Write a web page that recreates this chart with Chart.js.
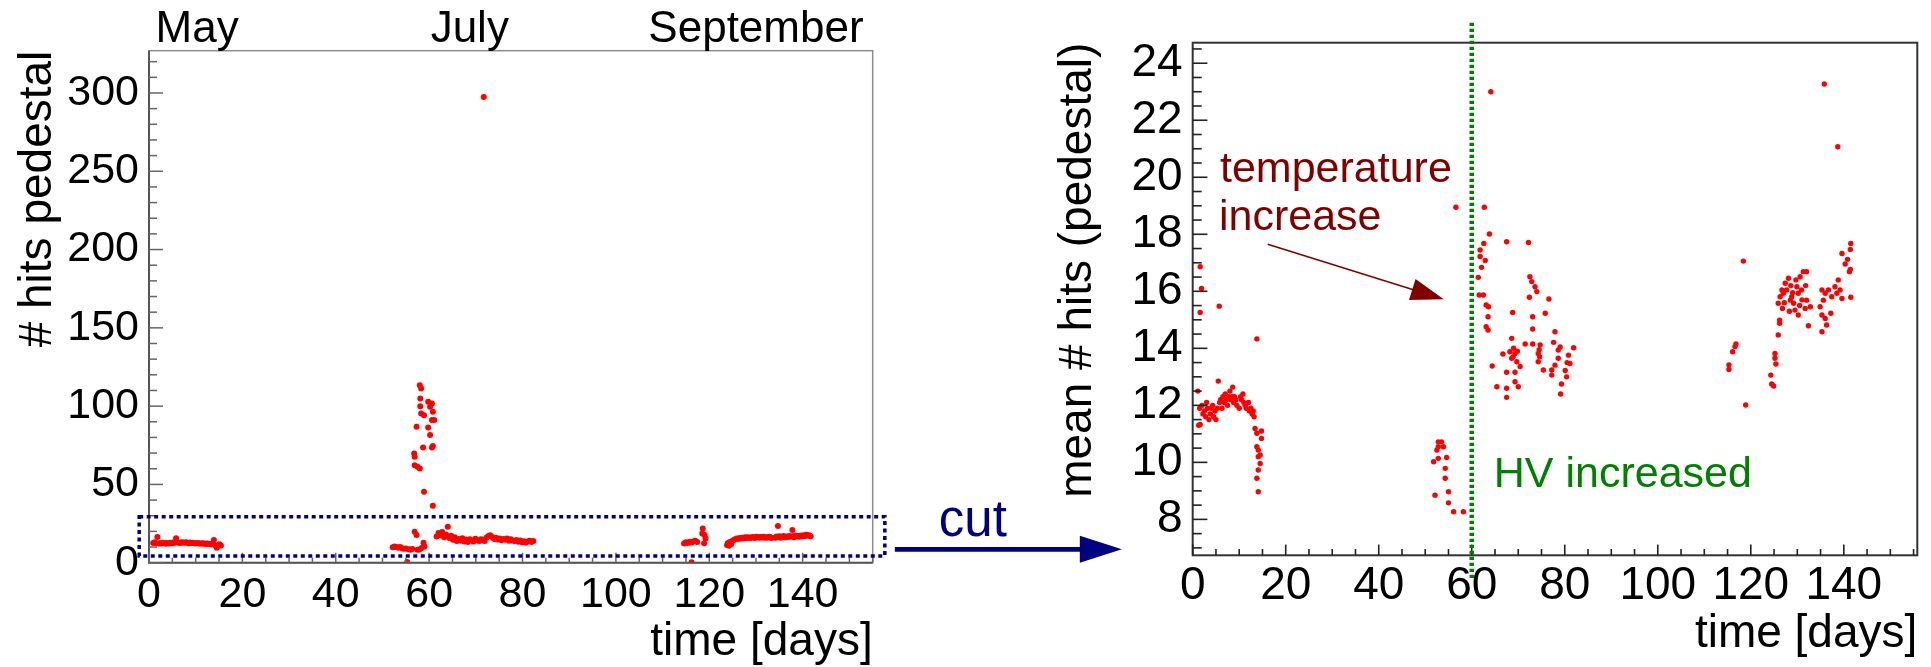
<!DOCTYPE html>
<html><head><meta charset="utf-8">
<script src="https://cdn.jsdelivr.net/npm/chart.js@4.4.1/dist/chart.umd.min.js"></script>
<style>
html,body{margin:0;padding:0;background:#fff;}
#wrap{position:relative;width:1931px;height:667px;overflow:hidden;background:#fff;}
canvas{position:absolute;left:0;top:0;}
</style></head><body>
<div id="wrap"><canvas id="left" width="1931" height="667"></canvas><canvas id="right" width="1931" height="667"></canvas></div>
<script>
// ---------------- data: left panel (# hits pedestal vs time) ----------------
const leftDays = [
  0.9,1.2,1.5,1.8,2.1,2.4,2.7,3.0,3.3,3.6, 3.9,4.2,4.5,4.8,5.1,5.4,5.8,6.1,6.4,6.7,
  7.0,7.3,7.6,7.9,8.2,8.5,8.8,9.1,9.4,9.7, 10.0,10.3,10.6,10.9,11.2,11.5,11.8,12.1,12.4,12.7,
  13.0,13.3,13.6,13.9,14.2,14.5,14.8,15.1,15.4,
  52.2,52.6,53.0,53.4,53.8,54.2,54.6,55.0,55.3,55.6, 56.0,56.4,56.9,57.3,57.5,57.9,58.4,58.8,59.0,
  57.3,56.8,56.9,56.9,57.5,58.0,58.0,58.3,58.1,58.1, 58.3,58.9,58.7,58.9,59.8,60.2,60.6,60.8,61.1,60.6,
  59.8,60.2,60.8,60.6,60.8,71.7,
  61.6,62.0,62.4,62.8,63.2,63.6,64.0,64.3,64.7,65.1, 65.5,65.9,66.3,66.7,67.1,67.5,67.9,68.3,68.7,69.1,
  69.5,69.9,70.3,70.7,71.1,71.5,71.9,72.3,72.7,73.1, 73.5,73.9,74.3,74.7,75.1,75.5,75.9,76.3,76.7,77.1,
  77.5,77.9,78.3,78.7,79.1,79.5,79.9,80.3,80.7,81.1, 81.5,81.9,82.3,
  114.6,115.0,115.4,115.8,116.2,116.2,116.6,117.0,117.4,118.5, 118.6,119.0,119.2,118.9,
  123.8,124.0,124.2,124.4,124.7,125.0,125.3,125.6,125.9,126.2, 126.5,126.8,127.1,127.4,127.7,128.0,128.3,128.6,128.9,129.2,
  129.5,129.8,130.1,130.4,130.7,131.0,131.3,131.6,131.9,132.2, 132.5,132.8,133.1,133.3,
  134.1,134.4,134.7,134.7,135.0,135.3,135.6,135.9,136.2,136.5, 136.8,137.1,137.4,137.8,137.8,138.1,138.4,138.7,139.0,139.3,
  139.6,139.9,140.2,140.5,140.8,141.1,141.4,141.7
];
const leftHits = [
  12.6,13.0,12.4,16.4,12.2,12.5,12.3,12.7,12.4,12.1, 12.6,12.3,12.8,12.5,12.9,12.6,15.6,13.0,12.8,12.6,
  13.1,12.9,12.7,13.0,12.8,12.5,12.9,12.6,12.7,12.4, 12.3,12.6,12.2,12.4,12.1,12.5,12.2,12.0,12.3,12.1,
  11.9,11.7,12.0,14.5,11.2,9.5,10.8,11.8,11.0,
  9.8,10.4,10.1,9.6,10.0,9.3,8.9,9.1,0.4,8.6, 8.3,8.8,19.8,17.7,8.2,8.5,9.4,12.8,10.3,
  86.8,69.8,67.6,62.3,61.3,60.2,113.4,111.3,104.9,100.0, 95.3,94.2,73.6,45.3,102.8,99.6,101.7,96.4,91.1,91.1,
  86.4,81.5,74.5,73.6,36.4,297.4,
  16.8,18.9,17.5,19.6,16.2,18.0,23.0,15.8,17.2,14.6, 16.3,13.9,15.1,14.2,15.6,13.5,14.8,13.2,15.0,14.1,
  13.6,15.3,14.4,13.8,15.0,14.6,13.9,16.1,17.0,17.6, 16.4,15.2,16.0,14.8,15.5,14.3,15.1,14.6,15.4,14.0,
  14.9,14.2,13.8,14.5,13.4,14.1,13.0,13.7,12.9,13.5, 14.0,13.2,13.8,
  12.2,13.0,12.6,13.4,0.3,12.9,13.6,14.0,13.3,18.7, 21.9,17.7,15.5,12.4,
  11.3,12.6,10.8,13.2,12.0,14.0,14.6,15.0,15.5,15.1, 15.8,15.4,16.0,15.6,16.2,15.8,16.3,16.0,15.7,16.4,
  16.1,15.8,16.5,16.2,15.9,16.4,16.1,16.6,16.0,16.3, 15.9,16.5,16.2,15.8,
  16.0,16.8,23.4,16.2,16.9,15.9,16.6,17.1,16.3,16.8, 16.4,17.0,16.5,20.9,16.9,16.2,17.3,16.7,17.1,16.6,
  17.4,16.9,17.6,17.0,17.8,17.2,17.5,16.9
];
const leftYTicks = [0,50,100,150,200,250,300];
const monthNames = ['May','July','September'];
const monthDays = [10.3, 68.7, 130.0];
// the dotted "cut" window, in data units of the left panel
const cutDays = [-2.1, 157.6];
const cutHits = [4.3, 29.4];

// ---------------- data: right panel (mean # hits (pedestal) vs time) ----------------
const rightDays = [
  1.1,1.3,1.6,1.9,1.6,1.6,1.5,2.0,2.2,2.5, 2.8,3.0,3.2,3.5,3.8,4.0,4.3,4.5,4.8,5.0,
  5.3,5.5,5.7,5.8,6.0,6.3,6.5,6.8,7.0,7.2, 7.5,7.8,8.0,8.2,8.5,8.6,8.8,9.0,9.3,9.5,
  10.0,10.3,10.5,10.8,11.0,11.3,11.5,12.0,12.2,12.5, 12.8,13.0,13.2,13.8,13.4,13.8,14.8,14.8,13.8,14.1,
  14.5,14.1,14.5,14.1,13.8,14.1,
  52.8,53.5,52.8,53.9,52.5,54.6,52.8,51.8,54.3,54.3, 52.1,55.0,55.0,56.1,58.2,
  56.6,62.7,63.8,62.6,61.8,61.8,62.9,62.1,61.4,61.6, 62.5,63.1,63.6,63.5,63.1,63.5,67.5,72.2,72.5,72.9,
  73.6,74.0,72.4,76.6,68.8,73.1,75.8,73.1,77.9,68.6, 71.5,73.1,74.7,77.6,81.9,66.7,68.2,69.3,68.6,69.7,
  74.3,74.3,78.6,78.6,80.8,81.1,77.9,64.4,70.4,77.2, 75.4,67.5,69.3,80.1,77.2,80.4,69.3,70.0,65.4,67.5,
  79.3,67.5,79.1,64.1,68.9,69.0,69.8,74.5,74.6,79.0, 80.5,
  118.9,115.3,115.3,116.1,116.6,116.8,124.3,124.5,124.9,125.2, 125.2,125.4,125.9,126.2,126.2,125.9,126.3,126.7,127.4,128.1,
  127.7,128.8,129.2,129.5,130.2,129.9,130.6,131.3,132.0,130.9, 132.0,132.8,132.4,128.5,127.0,130.2,131.7,129.7,135.3,136.0,
  136.7,135.6,134.9,135.3,136.0,136.3,135.3,137.2,137.4,138.1, 138.8,139.2,139.6,138.5,141.5,140.3,140.8,139.6,141.4,141.5,
  141.4,141.2,135.8,138.7,118.4,127.2,128.3,129.0,131.0,131.8, 126.8,128.6,130.5
];
const rightMeanHits = [
  12.5,11.3,16.86,16.1,15.26,11.33,11.9,12.0,11.7,11.8, 11.6,12.1,11.9,11.5,11.7,11.9,12.0,11.6,11.8,11.5,
  11.9,12.85,15.48,12.1,12.2,11.9,12.3,12.1,12.4,12.2, 12.0,12.3,12.5,12.2,12.3,12.64,12.1,12.3,12.2,12.0,
  11.9,12.3,12.2,12.4,12.1,12.0,11.9,12.1,11.8,11.9, 11.7,11.8,11.6,14.33,11.19,11.02,11.1,10.84,10.55,10.43,
  10.26,10.2,9.96,9.73,9.44,8.97,
  10.72,10.72,10.55,10.55,10.43,10.17,10.14,10.02,9.79,9.44, 8.85,8.97,8.58,8.27,8.27,
  18.95,18.95,18.01,17.68,17.45,17.22,17.08,16.84,16.49,15.87, 15.87,15.52,15.46,15.11,14.76,14.64,17.74,17.71,16.51,16.34,
  16.16,15.99,15.79,15.73,15.26,15.11,15.23,14.68,14.58,14.35, 14.15,14.15,14.12,14.21,14.02,13.8,13.88,13.82,13.65,13.53,
  13.82,13.53,13.94,13.65,13.76,13.47,13.41,13.38,13.36,13.24, 13.24,13.16,13.16,13.22,13.06,13.0,12.83,12.65,12.65,12.6,
  12.75,12.28,12.4,23.0,13.7,14.0,13.9,13.95,13.7,14.05, 13.5,
  12.01,13.42,13.26,13.88,14.06,14.15,13.06,12.75,12.68,13.82, 13.65,13.45,14.47,14.88,14.99,15.58,15.81,16.05,16.28,16.46,
  16.05,15.81,15.58,15.34,15.17,16.16,16.51,16.69,16.69,16.05, 15.69,15.46,14.79,15.69,15.93,15.93,15.4,16.4,16.05,15.93,
  16.05,15.69,15.46,15.17,15.05,14.82,14.58,15.23,15.81,16.16, 16.4,16.05,15.75,15.93,15.79,16.96,17.12,17.33,17.47,17.68,
  16.77,16.69,23.27,21.07,17.06,15.6,15.3,15.95,15.7,16.2, 15.4,16.2,15.5
];
const rightYTicks = [8,10,12,14,16,18,20,22,24];
const hvDay = 60;

// ---------------- styling helpers ----------------
const FONT = "'Liberation Sans', Arial, Helvetica, sans-serif";

function drawTicks(ctx, scale, area, opt) {
  const n0 = Math.ceil(scale.min / opt.step - 1e-9);
  const n1 = Math.floor(scale.max / opt.step + 1e-9);
  ctx.lineWidth = opt.width; ctx.strokeStyle = opt.color;
  for (let i = n0; i <= n1; i++) {
    const v = i * opt.step;
    const r = v / opt.major;
    const isMajor = Math.abs(r - Math.round(r)) < 1e-6;
    const len = isMajor ? opt.majorLen : opt.minorLen;
    const p = scale.getPixelForValue(v);
    ctx.beginPath();
    if (scale.isHorizontal()) { ctx.moveTo(p, area.bottom); ctx.lineTo(p, area.bottom - len); }
    else { ctx.moveTo(area.left, p); ctx.lineTo(area.left + len, p); }
    ctx.stroke();
  }
}

function arrowHead(ctx, x0, y0, x1, y1, L, W) {
  const dx = x1 - x0, dy = y1 - y0, d = Math.hypot(dx, dy);
  const ux = dx / d, uy = dy / d, nx = -uy, ny = ux;
  const bx = x1 - ux * L, by = y1 - uy * L;
  ctx.beginPath();
  ctx.moveTo(x1, y1);
  ctx.lineTo(bx + nx * W / 2, by + ny * W / 2);
  ctx.lineTo(bx - nx * W / 2, by - ny * W / 2);
  ctx.closePath(); ctx.fill();
}

const leftDecor = {
  id: 'leftDecor',
  afterDatasetsDraw(chart) {
    const {ctx, chartArea: a, scales: {x, y}} = chart;
    ctx.save();
    // frame
    ctx.lineWidth = 1.5; ctx.strokeStyle = '#8c8c8c';
    ctx.strokeRect(a.left, a.top, a.right - a.left, a.bottom - a.top);
    ctx.lineWidth = 2; ctx.strokeStyle = '#555';
    ctx.beginPath(); ctx.moveTo(a.left, a.top); ctx.lineTo(a.left, a.bottom); ctx.lineTo(a.right, a.bottom); ctx.stroke();
    drawTicks(ctx, y, a, {step: 10, major: 50, majorLen: 14, minorLen: 8, width: 1.5, color: '#666'});
    drawTicks(ctx, x, a, {step: 5, major: 20, majorLen: 10, minorLen: 5, width: 1.5, color: '#666'});
    // month labels
    ctx.fillStyle = '#000'; ctx.font = `44px ${FONT}`; ctx.textAlign = 'center'; ctx.textBaseline = 'alphabetic';
    monthNames.forEach((m, i) => ctx.fillText(m, x.getPixelForValue(monthDays[i]), a.top - 9));
    // dotted cut window
    const bx0 = x.getPixelForValue(cutDays[0]), bx1 = x.getPixelForValue(cutDays[1]);
    const by0 = y.getPixelForValue(cutHits[1]), by1 = y.getPixelForValue(cutHits[0]);
    ctx.setLineDash([4, 3.5]); ctx.lineWidth = 3.5; ctx.strokeStyle = '#000080';
    ctx.strokeRect(bx0, by0, bx1 - bx0, by1 - by0);
    ctx.setLineDash([]);
    // "cut" arrow
    const ay = y.getPixelForValue(8.55);
    ctx.lineWidth = 4.7; ctx.strokeStyle = '#000080'; ctx.fillStyle = '#000080';
    ctx.beginPath(); ctx.moveTo(bx1 + 10, ay); ctx.lineTo(bx1 + 200, ay); ctx.stroke();
    arrowHead(ctx, bx1 + 10, ay, bx1 + 237, ay, 42, 27);
    ctx.font = `51px ${FONT}`; ctx.textAlign = 'left';
    ctx.fillText('cut', bx1 + 54, ay - 13.6);
    ctx.restore();
  }
};

const rightDecor = {
  id: 'rightDecor',
  afterDatasetsDraw(chart) {
    const {ctx, chartArea: a, scales: {x, y}} = chart;
    ctx.save();
    ctx.lineWidth = 2; ctx.strokeStyle = '#333';
    ctx.strokeRect(a.left, a.top, a.right - a.left, a.bottom - a.top);
    drawTicks(ctx, y, a, {step: 0.5, major: 2, majorLen: 14.7, minorLen: 9, width: 1.6, color: '#222'});
    drawTicks(ctx, x, a, {step: 5, major: 20, majorLen: 10.7, minorLen: 6.3, width: 1.6, color: '#222'});
    // HV line
    const gx = x.getPixelForValue(hvDay);
    ctx.setLineDash([3.3, 2.7]); ctx.lineWidth = 4.5; ctx.strokeStyle = '#008000';
    ctx.beginPath(); ctx.moveTo(gx, a.top - 20); ctx.lineTo(gx, a.bottom + 23); ctx.stroke();
    ctx.setLineDash([]);
    ctx.fillStyle = '#008000'; ctx.font = `43px ${FONT}`; ctx.textAlign = 'left'; ctx.textBaseline = 'alphabetic';
    ctx.fillText('HV increased', gx + 22, 486.7);
    // temperature annotation
    ctx.fillStyle = '#800000';
    ctx.fillText('temperature', 1220, 181.7);
    ctx.fillText('increase', 1219, 230);
    ctx.strokeStyle = '#800000'; ctx.lineWidth = 1.5;
    const x0 = 1267.7, y0 = 244.3, x1 = gx - 28, y1 = 299.3;
    ctx.beginPath(); ctx.moveTo(x0, y0); ctx.lineTo(x1 - 20, y1 - 6.3); ctx.stroke();
    arrowHead(ctx, x0, y0, x1, y1, 33, 22);
    ctx.restore();
  }
};

function pts(xs, ys) { return xs.map((d, i) => ({x: d, y: ys[i]})); }

new Chart(document.getElementById('left'), {
  type: 'scatter',
  data: {datasets: [{data: pts(leftDays, leftHits), backgroundColor: '#ff0000', borderWidth: 0, pointRadius: 3, pointHoverRadius: 3}]},
  options: {
    responsive: false, animation: false, devicePixelRatio: 1,
    layout: {padding: {left: 0, top: 50.7, right: 1058.3, bottom: 0}},
    plugins: {legend: {display: false}, tooltip: {enabled: false}},
    scales: {
      x: {
        type: 'linear', position: 'bottom', min: 0, max: 155,
        grid: {display: false, drawTicks: false}, border: {display: false},
        ticks: {stepSize: 20, includeBounds: false, autoSkip: false, maxRotation: 0, padding: 6.5, color: '#000', font: {family: FONT, size: 43}},
        title: {display: true, text: 'time [days]', align: 'end', color: '#000', font: {family: FONT, size: 46, lineHeight: 1}, padding: {top: 0, bottom: 1.6}},
        afterFit(s) { s.height = 104.3; }
      },
      y: {
        type: 'linear', position: 'left', min: 0, max: 327,
        grid: {display: false, drawTicks: false}, border: {display: false},
        afterBuildTicks(s) { s.ticks = leftYTicks.map(v => ({value: v})); },
        ticks: {autoSkip: false, padding: 10, color: '#000', font: {family: FONT, size: 43}},
        title: {display: true, text: '# hits pedestal', align: 'end', color: '#000', font: {family: FONT, size: 46, lineHeight: 1.2}, padding: {top: 11, bottom: 0}},
        afterFit(s) { s.width = 149; }
      }
    }
  },
  plugins: [leftDecor]
});

new Chart(document.getElementById('right'), {
  type: 'scatter',
  data: {datasets: [{data: pts(rightDays, rightMeanHits), backgroundColor: '#ff0000', borderWidth: 0, pointRadius: 2.7, pointHoverRadius: 2.7}]},
  options: {
    responsive: false, animation: false, devicePixelRatio: 1,
    layout: {padding: {left: 1040, top: 42.7, right: 13.7, bottom: 0}},
    plugins: {legend: {display: false}, tooltip: {enabled: false}},
    scales: {
      x: {
        type: 'linear', position: 'bottom', min: 0, max: 155.8,
        grid: {display: false, drawTicks: false}, border: {display: false},
        ticks: {stepSize: 20, includeBounds: false, autoSkip: false, maxRotation: 0, padding: 3.5, color: '#000', font: {family: FONT, size: 46}},
        title: {display: true, text: 'time [days]', align: 'end', color: '#000', font: {family: FONT, size: 46, lineHeight: 1}, padding: {top: 0, bottom: 10}},
        afterFit(s) { s.height = 111.7; }
      },
      y: {
        type: 'linear', position: 'left', min: 6.74, max: 24.72,
        grid: {display: false, drawTicks: false}, border: {display: false},
        afterBuildTicks(s) { s.ticks = rightYTicks.map(v => ({value: v})); },
        ticks: {autoSkip: false, padding: 10, color: '#000', font: {family: FONT, size: 46}},
        title: {display: true, text: 'mean # hits (pedestal)', align: 'end', color: '#000', font: {family: FONT, size: 46, lineHeight: 1.2}, padding: {top: 11.1, bottom: 0}},
        afterFit(s) { s.width = 152.7; }
      }
    }
  },
  plugins: [rightDecor]
});
</script></body></html>
